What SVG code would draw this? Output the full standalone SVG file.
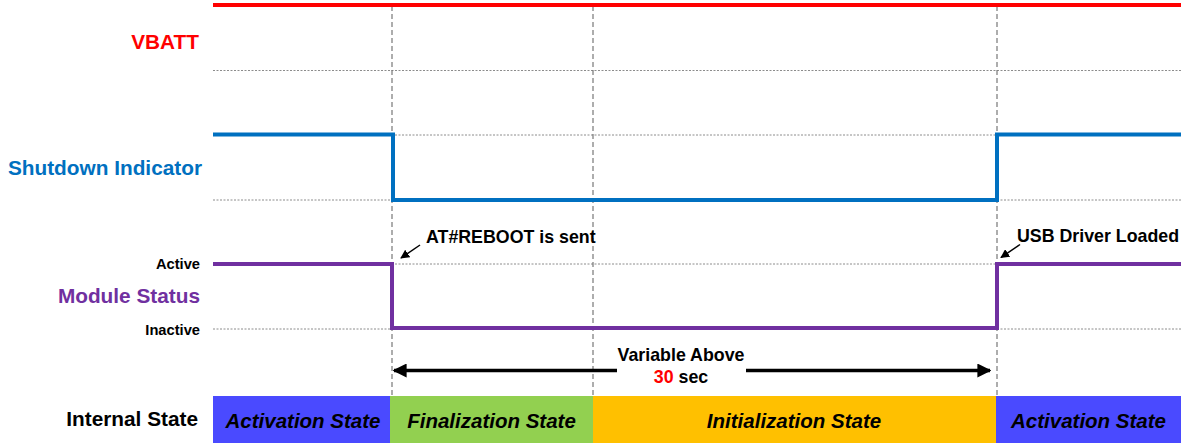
<svg xmlns="http://www.w3.org/2000/svg" width="1181" height="443" viewBox="0 0 1181 443">
<style>
text{font-family:"Liberation Sans",Arial,sans-serif;font-weight:bold}
.lbl{font-size:20.8px;text-anchor:end}
.lvl{font-size:14.7px;text-anchor:end;fill:#000}
.note{font-size:17.8px;fill:#000}
.st{font-size:20.5px;font-style:italic;text-anchor:middle;fill:#000}
.grid{stroke:#8c8c8c;stroke-width:1;stroke-dasharray:2 1.5;fill:none}
.vdash{stroke:#777;stroke-width:1.2;stroke-dasharray:5 3;fill:none}
.sig{fill:none;stroke-width:4;stroke-linejoin:miter}
</style>
<defs>
<marker id="ah" viewBox="0 0 10 10" refX="9" refY="5" markerWidth="4" markerHeight="4" orient="auto-start-reverse" markerUnits="strokeWidth">
<path d="M0,0 L10,5 L0,10 z" fill="#000"/>
</marker>
<marker id="ahs" viewBox="0 0 10 10" refX="9" refY="5" markerWidth="6" markerHeight="6" orient="auto" markerUnits="strokeWidth">
<path d="M0,0 L10,5 L0,10 z" fill="#000"/>
</marker>
</defs>

<g id="grid">
<line class="grid" x1="213" y1="70.5" x2="1181" y2="70.5"/>
<line class="grid" x1="213" y1="135" x2="1181" y2="135"/>
<line class="grid" x1="213" y1="200" x2="1181" y2="200"/>
<line class="grid" x1="213" y1="264" x2="1181" y2="264"/>
<line class="grid" x1="213" y1="329" x2="1181" y2="329"/>
<line class="vdash" x1="392" y1="6" x2="392" y2="396"/>
<line class="vdash" x1="593" y1="6" x2="593" y2="396"/>
<line class="vdash" x1="997" y1="6" x2="997" y2="396"/>
</g>

<g id="vbatt">
<text class="lbl" x="199" y="49" fill="#FF0000">VBATT</text>
<line x1="213" y1="5" x2="1181" y2="5" stroke="#FF0000" stroke-width="4"/>
</g>

<g id="shutdown">
<text class="lbl" x="202" y="175" fill="#0070C0">Shutdown Indicator</text>
<polyline class="sig" stroke="#0070C0" points="213,134.5 393,134.5 393,200 997,200 997,134.5 1181,134.5"/>
</g>

<g id="module">
<text class="lvl" x="200" y="268.5">Active</text>
<text class="lbl" x="200" y="303" fill="#7030A0">Module Status</text>
<text class="lvl" x="200" y="335">Inactive</text>
<polyline class="sig" stroke="#7030A0" points="213,264 392,264 392,328 997,328 997,264 1181,264"/>
</g>

<g id="annotations">
<text class="note" x="426" y="243">AT#REBOOT is sent</text>
<text class="note" x="1017" y="241.5">USB Driver Loaded</text>
</g>

<g id="connectors">
<line x1="420" y1="245" x2="401" y2="258" stroke="#000" stroke-width="1.5" marker-end="url(#ahs)"/>
<line x1="1020" y1="244.5" x2="1001" y2="257.5" stroke="#000" stroke-width="1.5" marker-end="url(#ahs)"/>
<line x1="617" y1="370.5" x2="394" y2="370.5" stroke="#000" stroke-width="3.5" marker-end="url(#ah)"/>
<line x1="746" y1="370.5" x2="990" y2="370.5" stroke="#000" stroke-width="3.5" marker-end="url(#ah)"/>
</g>

<g id="duration">
<text class="note" x="681" y="361" text-anchor="middle">Variable Above</text>
<text class="note" x="681" y="382.5" text-anchor="middle"><tspan fill="#FF0000">30</tspan> sec</text>
</g>

<g id="internal-state">
<text class="lbl" x="198" y="425.5" fill="#000">Internal State</text>
<rect x="213" y="396" width="177" height="47" fill="#4A4AFF"/>
<rect x="390" y="396" width="203" height="47" fill="#92D050"/>
<rect x="593" y="396" width="403" height="47" fill="#FFC000"/>
<rect x="996" y="396" width="185" height="47" fill="#4A4AFF"/>
<text class="st" x="303" y="427.5">Activation State</text>
<text class="st" x="491.5" y="427.5">Finalization State</text>
<text class="st" x="794" y="427.5">Initialization State</text>
<text class="st" x="1088.5" y="427.5">Activation State</text>
</g>
</svg>
